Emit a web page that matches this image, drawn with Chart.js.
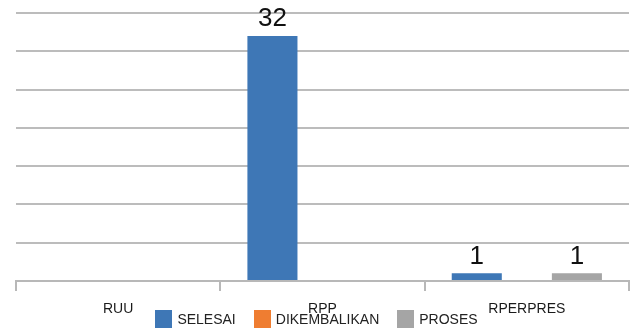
<!DOCTYPE html>
<html lang="id">
<head>
<meta charset="UTF-8">
<title>Grafik</title>
<script src="https://cdn.jsdelivr.net/npm/chart.js@4/dist/chart.umd.min.js"></script>
<style>
  html, body { margin: 0; padding: 0; background: #fff; }
  .wrap { position: relative; width: 633px; height: 331px; }
  #legenda {
    position: absolute; left: 0; top: 310px; width: 633px;
    display: flex; justify-content: center; gap: 18px;
    font-family: "Liberation Sans", Arial, sans-serif; font-size: 14px; color: #222;
  }
  #legenda .item { display: flex; align-items: center; }
  #legenda .kotak { width: 17px; height: 18px; margin-right: 5px; }
</style>
</head>
<body>
<div class="wrap">
  <canvas id="grafik" width="633" height="331"></canvas>
  <div id="legenda"></div>
</div>

<script>
var kategori = ['RUU', 'RPP', 'RPERPRES'];
var seri = ['SELESAI', 'DIKEMBALIKAN', 'PROSES'];
var warna = ['#3e77b6', '#ef7d31', '#a5a5a5'];
var selesai = [0, 32, 1];
var dikembalikan = [0, 0, 0];
var proses = [0, 0, 1];

var nilai = [selesai, dikembalikan, proses];

// legenda html (overlaps the x labels like the original)
var leg = document.getElementById('legenda');
for (var i = 0; i < seri.length; i++) {
    var it = document.createElement('div');
    it.className = 'item';
    it.innerHTML = '<span class="kotak" style="background:' + warna[i] + '"></span>' + seri[i];
    leg.appendChild(it);
}

// angka di atas batang
var labelAngka = {
    id: 'labelAngka',
    afterDatasetsDraw: function (chart) {
        var ctx = chart.ctx;
        ctx.save();
        ctx.font = '26px "Liberation Sans", Arial, sans-serif';
        ctx.fillStyle = '#111';
        ctx.textAlign = 'center';
        ctx.textBaseline = 'bottom';
        chart.data.datasets.forEach(function (ds, di) {
            var meta = chart.getDatasetMeta(di);
            meta.data.forEach(function (el, j) {
                var v = ds.data[j];
                if (v > 0) ctx.fillText(v, el.x, el.y - 4);
            });
        });
        ctx.restore();
    }
};

var datasets = [];
for (var k = 0; k < seri.length; k++) {
    datasets.push({
        label: seri[k],
        data: nilai[k],
        backgroundColor: warna[k],
        barPercentage: 1,
        categoryPercentage: 0.735
    });
}

new Chart(document.getElementById('grafik'), {
    type: 'bar',
    data: { labels: kategori, datasets: datasets },
    plugins: [labelAngka],
    options: {
        responsive: false,
        animation: false,
        layout: { padding: { left: 16, right: 4, top: 13, bottom: 0 } },
        plugins: {
            legend: { display: false },
            tooltip: { enabled: false }
        },
        scales: {
            x: {
                afterFit: function (s) { s.height = 50; },
                grid: {
                    offset: true,
                    drawOnChartArea: false,
                    drawTicks: true,
                    tickLength: 10,
                    color: '#b8b8b8',
                    lineWidth: 2
                },
                border: { display: true, color: '#b8b8b8', width: 2 },
                ticks: {
                    padding: 10,
                    color: '#1a1a1a',
                    font: { family: '"Liberation Sans", Arial, sans-serif', size: 14 }
                }
            },
            y: {
                min: 0,
                max: 35,
                afterFit: function (s) { s.width = 0; },
                border: { display: false },
                grid: { color: '#bcbcbc', lineWidth: 2, drawTicks: false },
                ticks: { display: false, stepSize: 5 }
            }
        }
    }
});
</script>
</body>
</html>
